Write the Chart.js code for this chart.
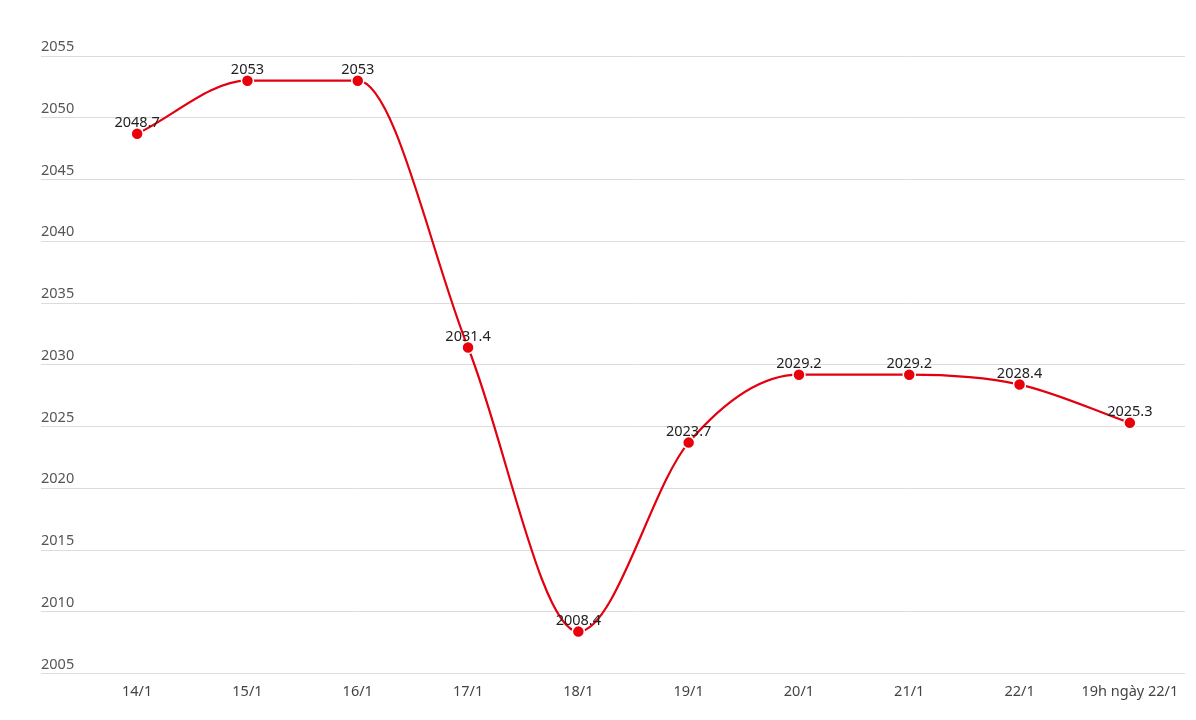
<!DOCTYPE html>
<html>
<head>
<meta charset="utf-8">
<script src="https://cdn.jsdelivr.net/npm/chart.js@4/dist/chart.umd.min.js"></script>
<style>
  html, body { margin: 0; padding: 0; background: #fff; }
  #wrap { width: 1196px; height: 720px; }
</style>
</head>
<body>
<div id="wrap"><canvas id="priceChart"></canvas></div>
<script>
const days = ['14/1', '15/1', '16/1', '17/1', '18/1', '19/1', '20/1', '21/1', '22/1', '19h ngày 22/1'];
const values = [2048.7, 2053, 2053, 2031.4, 2008.4, 2023.7, 2029.2, 2029.2, 2028.4, 2025.3];
const yMin = 2005;
const yMax = 2055;
const yStep = 5;

// draws the value above each point
const valueLabels = {
    id: 'valueLabels',
    afterDatasetsDraw(chart) {
        const ctx = chart.ctx;
        const meta = chart.getDatasetMeta(0);
        ctx.save();
        ctx.font = '14.5px "Noto Sans", sans-serif';
        ctx.fillStyle = '#222';
        ctx.textAlign = 'center';
        ctx.textBaseline = 'middle';
        meta.data.forEach((pt, i) => {
            ctx.fillText(String(values[i]), pt.x, pt.y - 11);
        });
        ctx.restore();
    }
};

const ctx = document.getElementById('priceChart').getContext('2d');
new Chart(ctx, {
    type: 'line',
    data: {
        labels: days,
        datasets: [{
            data: values,
            borderColor: '#e3000f',
            borderWidth: 2.2,
            cubicInterpolationMode: 'monotone',
            pointRadius: 6,
            pointBackgroundColor: '#e8000b',
            pointBorderColor: '#fff',
            pointBorderWidth: 1.5,
            fill: false
        }]
    },
    options: {
        responsive: true,
        maintainAspectRatio: false,
        animation: false,
        layout: { padding: { left: 41, right: 11, top: 56, bottom: 9 } },
        plugins: {
            legend: { display: false },
            tooltip: { enabled: false }
        },
        scales: {
            x: {
                offset: true,
                grid: { display: false, drawTicks: false },
                border: { display: false },
                ticks: {
                    color: '#444',
                    padding: 10,
                    maxRotation: 0,
                    autoSkip: false,
                    font: { family: '"Noto Sans", sans-serif', size: 14.5 }
                }
            },
            y: {
                min: yMin,
                max: yMax,
                afterFit: (scale) => { scale.width = 41; },
                grid: { color: '#dcdcdc', lineWidth: 1, tickLength: 41, tickColor: '#dcdcdc' },
                border: { display: false },
                ticks: {
                    stepSize: yStep,
                    color: '#555',
                    crossAlign: 'far',
                    padding: 0,
                    labelOffset: -9,
                    callback: (v) => String(v),
                    font: { family: '"Noto Sans", sans-serif', size: 14.5 }
                }
            }
        }
    },
    plugins: [valueLabels]
});
</script>
</body>
</html>
